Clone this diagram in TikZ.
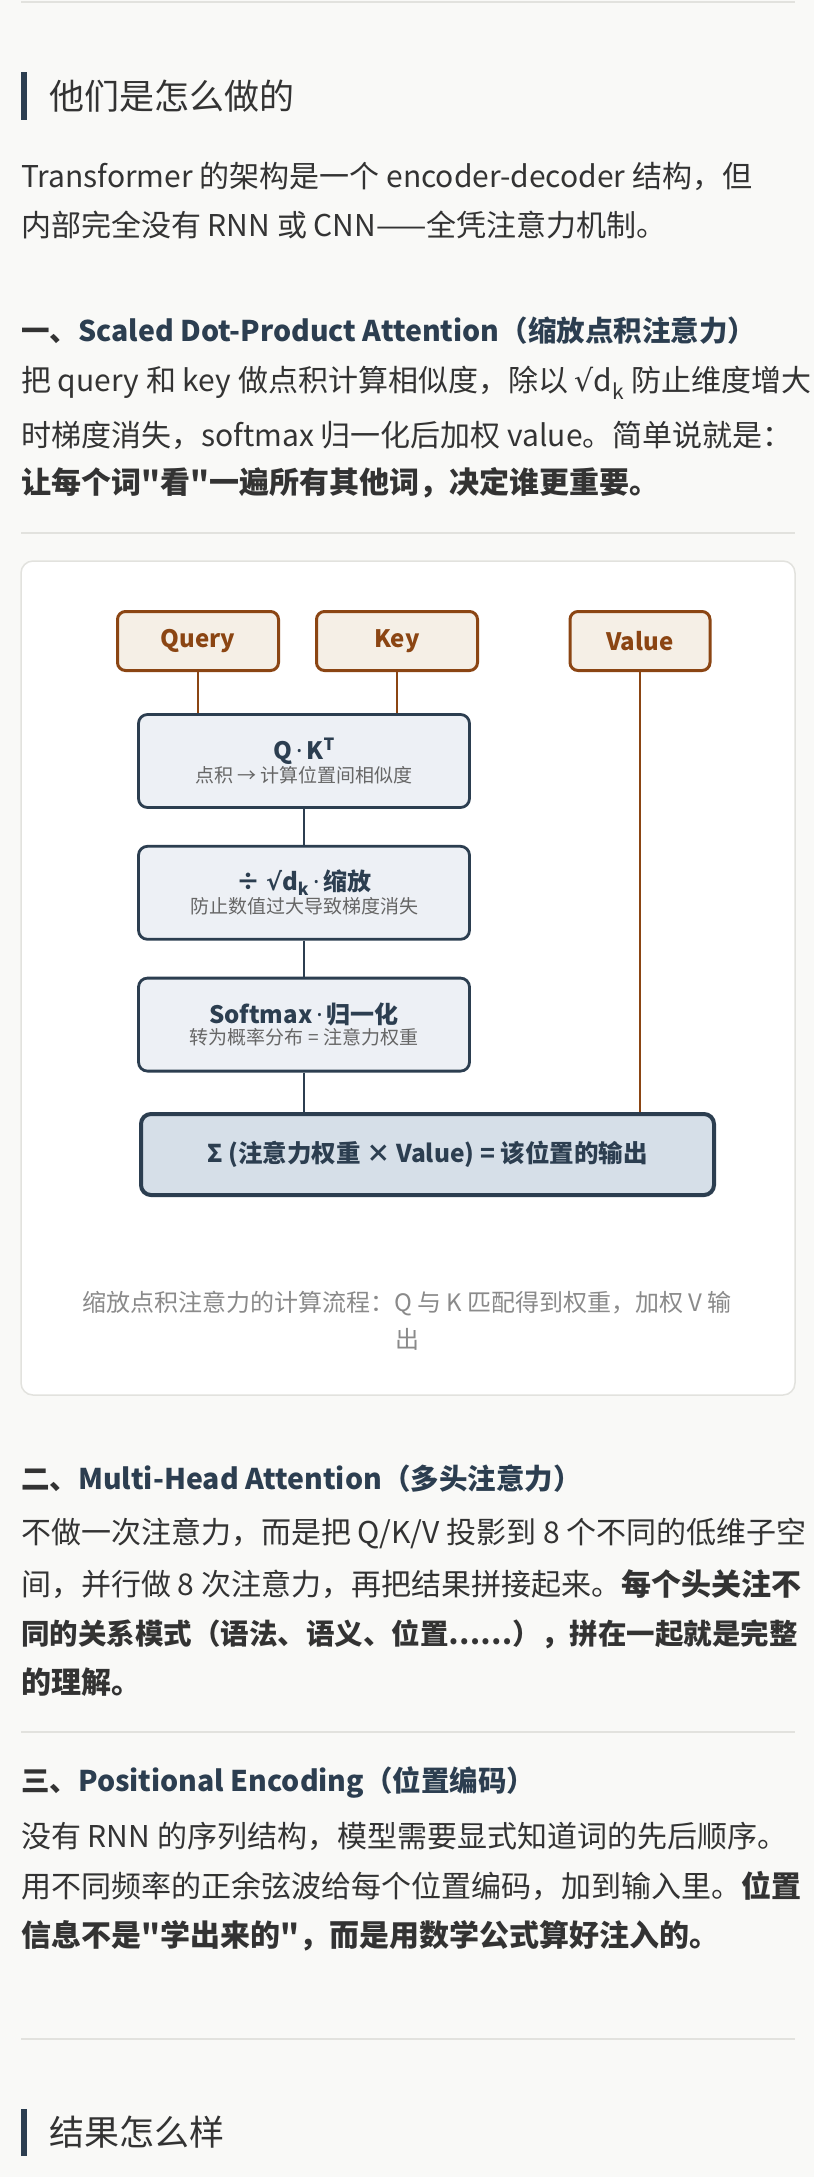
\documentclass[tikz,border=0pt]{standalone}
\usepackage{fontspec}
\setmainfont{Noto Sans CJK SC}[Ligatures=TeXOff]
\newfontfamily\latinfont{Noto Sans}
\newfontfamily\symfont{DejaVu Sans}
\usetikzlibrary{positioning}
\definecolor{pagebg}{HTML}{F9F9F7}
\definecolor{ink}{HTML}{333333}
\definecolor{navy}{HTML}{2C3E50}
\definecolor{rule}{HTML}{E2E2DE}
\definecolor{brownln}{HTML}{8B4513}
\definecolor{brownbg}{HTML}{F5EFE6}
\definecolor{stepbg}{HTML}{EDF0F5}
\definecolor{sumbg}{HTML}{D6DFE8}
\definecolor{capgrey}{HTML}{8A8A8A}
\tikzset{
    body/.style={anchor=west,inner sep=0,text=ink,font=\fontsize{30}{34}\selectfont},
    boldbody/.style={body,font=\bfseries\fontsize{30}{34}\selectfont},
    secthead/.style={anchor=west,inner sep=0,text=navy,font=\bfseries\fontsize{28.5}{32}\selectfont},
    bighead/.style={anchor=west,inner sep=0,text=ink,font=\fontsize{35}{40}\selectfont},
    inbox/.style={draw=brownln,fill=brownbg,line width=3pt,rounded corners=8pt,
        minimum height=59pt,text=brownln,font=\bfseries\fontsize{24}{26}\selectfont},
    stepbox/.style={draw=navy,fill=stepbg,line width=2.8pt,rounded corners=9pt,
        minimum width=331pt,minimum height=93pt,align=center,text=navy},
    sumbox/.style={draw=navy,fill=sumbg,line width=4pt,rounded corners=10pt,
        minimum width=573pt,minimum height=81pt,text=navy,font=\bfseries\fontsize{24.5}{28}\selectfont},
    sepline/.style={rule,line width=1.5pt},
}
\newcommand{\steptext}[2]{{\bfseries\fontsize{24}{32}\selectfont #1}\\[1pt]{\fontsize{19}{22}\selectfont\color{ink!75} #2}}
\newcommand{\mdot}{\,{\latinfont ·}\,}
\newcommand{\sqdk}{{\symfont √}d\textsubscript{k}}
\begin{document}
\begin{tikzpicture}[x=1pt,y=-1pt]
    \useasboundingbox[fill=pagebg] (0,0) rectangle (814,2177);
    \draw[sepline] (21,2) -- (795,2);
    % heading
    \fill[navy] (21,72) rectangle (27,120);
    \node[bighead] (h1) at (49,96) {他们是怎么做的};
    \node[body] (p1a) at (21,176) {Transformer 的架构是一个 encoder-decoder 结构，但};
    \node[body] (p1b) at (21,225) {内部完全没有 RNN 或 CNN——全凭注意力机制。};
    % part one
    \node[secthead] (s1) at (21,331) {\color{ink}一、\color{navy}Scaled Dot-Product Attention（缩放点积注意力）};
    \node[body] (p2a) at (21,383) {把 query 和 key 做点积计算相似度，除以 \sqdk{} 防止维度增大};
    \node[body] (p2b) at (21,435) {时梯度消失，softmax 归一化后加权 value。简单说就是：};
    \node[boldbody] (p2c) at (21,483) {让每个词"看"一遍所有其他词，决定谁更重要。};
    \draw[sepline] (21,533) -- (795,533);
    % card
    \draw[rule,fill=white,line width=1.5pt,rounded corners=12pt] (21,561) rectangle (795,1395);
    \node[inbox,minimum width=161pt] (query) at (198,641) {Query};
    \node[inbox,minimum width=161pt] (key) at (397,641) {Key};
    \node[inbox,minimum width=140pt] (value) at (640,641) {Value};
    \node[stepbox] (qk) at (304,761) {\steptext{Q\mdot K\textsuperscript{T}}{点积 → 计算位置间相似度}};
    \node[stepbox,below=36pt of qk] (scale) {\steptext{÷ \sqdk\mdot 缩放}{防止数值过大导致梯度消失}};
    \node[stepbox,below=36pt of scale] (soft) {\steptext{Softmax\mdot 归一化}{转为概率分布 = 注意力权重}};
    \node[sumbox,anchor=north west] (sum) at (139,1112) {Σ (注意力权重 × Value) = 该位置的输出};
    \draw[brownln,line width=2.5pt] (query) -- (query|-qk.north);
    \draw[brownln,line width=2.5pt] (key) -- (key|-qk.north);
    \draw[brownln,line width=2.5pt] (value) -- (value|-sum.north);
    \draw[navy,line width=2.5pt] (qk) -- (scale);
    \draw[navy,line width=2.5pt] (scale) -- (soft);
    \draw[navy,line width=2.5pt] (soft) -- (soft|-sum.north);
    \node[text=capgrey,align=center,font=\fontsize{24}{37}\selectfont] (cap) at (407,1321)
        {缩放点积注意力的计算流程：Q 与 K 匹配得到权重，加权 V 输\\出};
    % part two
    \node[secthead] (s2) at (21,1479) {\color{ink}二、\color{navy}Multi-Head Attention（多头注意力）};
    \node[body] (p3a) at (21,1534) {不做一次注意力，而是把 Q/K/V 投影到 8 个不同的低维子空};
    \node[body] (p3b) at (21,1584) {间，并行做 8 次注意力，再把结果拼接起来。\textbf{每个头关注不}};
    \node[boldbody,font=\bfseries\fontsize{28.5}{34}\selectfont] (p3c) at (21,1634) {同的关系模式（语法、语义、位置……），拼在一起就是完整};
    \node[boldbody] (p3d) at (21,1682) {的理解。};
    \draw[sepline] (21,1732) -- (795,1732);
    % part three
    \node[secthead] (s3) at (21,1782) {\color{ink}三、\color{navy}Positional Encoding（位置编码）};
    \node[body] (p4a) at (21,1836) {没有 RNN 的序列结构，模型需要显式知道词的先后顺序。};
    \node[body] (p4b) at (21,1886) {用不同频率的正余弦波给每个位置编码，加到输入里。\textbf{位置}};
    \node[boldbody] (p4c) at (21,1936) {信息不是"学出来的"，而是用数学公式算好注入的。};
    \draw[sepline] (21,2039) -- (795,2039);
    % next heading
    \fill[navy] (21,2109) rectangle (27,2156);
    \node[bighead] (h2) at (49,2132) {结果怎么样};
\end{tikzpicture}
\end{document}
